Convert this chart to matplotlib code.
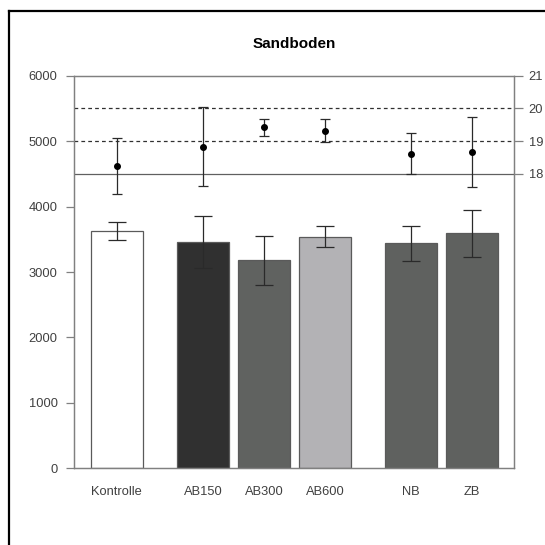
import matplotlib
matplotlib.use("Agg")
import matplotlib.pyplot as plt
from matplotlib.lines import Line2D
import numpy as np

plt.rcParams["font.family"] = ["Liberation Sans", "DejaVu Sans"]

# Bars (left axis) and points (right axis) per treatment
categories = ["Kontrolle", "AB150", "AB300", "AB600", "NB", "ZB"]
groups = [0, 1, 1, 1, 2, 2]
bar_mean = [3631, 3463, 3179, 3540, 3439, 3592]
bar_err = [140, 400, 377, 158, 270, 363]
bar_colors = ["#ffffff", "#303030", "#606260", "#b3b2b5", "#5f615f", "#5f615f"]
point_mean = [18.24, 18.83, 19.43, 19.32, 18.62, 18.67]
point_err = [0.87, 1.20, 0.26, 0.36, 0.62, 1.06]

left_ticks = [0, 1000, 2000, 3000, 4000, 5000, 6000]
right_ticks = [18, 19, 20, 21]

GAP = 0.42
x = np.arange(len(categories)) + GAP * np.array(groups)

fig = plt.figure(figsize=(5.45, 5.45), dpi=100)
ax = fig.add_axes([0.1363, 0.1407, 0.8068, 0.7204])
ax2 = ax.twinx()

spine_col = "#808080"
text_col = "#404040"
fs = 9.3

ax.bar(x, bar_mean, width=0.85, color=bar_colors, edgecolor="#5a5a5a",
       linewidth=0.9, zorder=2)
ax.errorbar(x, bar_mean, yerr=bar_err, fmt="none", ecolor="#2a2a2a",
            elinewidth=0.9, capsize=6.5, capthick=0.9, zorder=3)

ax.set_ylim(0, 6000)
ax.set_xlim(-0.70, x[-1] + 0.69)
ax.set_yticks(left_ticks)
ax.set_xticks(x)
ax.set_xticklabels(categories)
ax.tick_params(axis="x", length=0, pad=13, labelsize=fs, labelcolor=text_col)
ax.tick_params(axis="y", length=5.5, width=0.9, color=spine_col, pad=6.5,
               labelsize=fs, labelcolor=text_col)

# right axis: reference lines and point means
ax2.set_ylim(9, 21)
ax2.set_yticks(right_ticks)
ax2.tick_params(axis="y", length=6.5, width=0.9, color=spine_col, pad=4,
                labelsize=fs, labelcolor=text_col)
ax2.axhline(18, color="#606060", lw=0.9, zorder=1)
for v in (19, 20):
    ax2.axhline(v, color="#303030", lw=0.9, ls=(0, (3, 2.5)), zorder=1)
ax2.errorbar(x, point_mean, yerr=point_err, fmt="o", color="black",
             ms=4, ecolor="#2a2a2a", elinewidth=0.9, capsize=3.5,
             capthick=0.9, zorder=4)

for a in (ax, ax2):
    for s in a.spines.values():
        s.set_color(spine_col)
        s.set_linewidth(0.9)

ax.set_title("Sandboden", fontsize=11, fontweight="bold", pad=20)

# outer chart frame (cut off at right and bottom)
fig.add_artist(Line2D([9 / 545, 9 / 545], [0, 1 - 11 / 545],
                      transform=fig.transFigure, color="black", lw=1.6))
fig.add_artist(Line2D([9 / 545, 1], [1 - 11 / 545, 1 - 11 / 545],
                      transform=fig.transFigure, color="black", lw=1.6))

fig.savefig("out.png", dpi=100, facecolor="white")
